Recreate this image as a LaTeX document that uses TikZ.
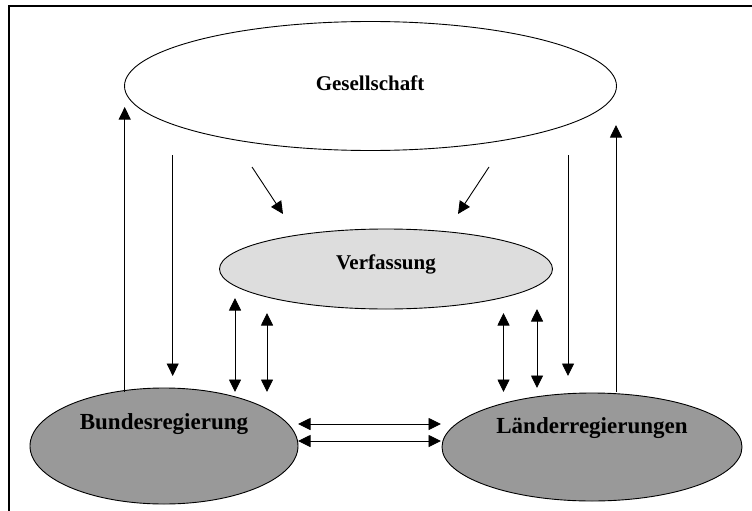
\documentclass[tikz,border=0pt]{standalone}
\usepackage{fontspec}
\setmainfont{Liberation Serif}
\usetikzlibrary{shapes.geometric,arrows.meta}
\definecolor{lightfill}{HTML}{DDDDDD}
\definecolor{darkfill}{HTML}{999999}
\tikzset{
  oval/.style={ellipse, draw=black, line width=0.9pt, inner sep=0pt},
  arr/.style={line width=0.9pt, -{Triangle[width=12pt,length=12.5pt]}},
  darr/.style={line width=0.9pt, {Triangle[width=12pt,length=12.5pt]}-{Triangle[width=12pt,length=12.5pt]}},
  toplabel/.style={font=\bfseries\fontsize{21}{23}\selectfont, inner sep=0pt},
  govlabel/.style={font=\bfseries\fontsize{23}{25}\selectfont, inner sep=0pt},
}
\begin{document}
\begin{tikzpicture}[x=1pt,y=-1pt]
\useasboundingbox (0,0) rectangle (752,511);
% frame (top and left only)
\draw[line width=2pt] (8.5,520) coordinate (fbl) -- (8.5,6.5) coordinate (ftl) -- (760,6.5) coordinate (ftr);
% ellipses
\node[oval, fill=white, minimum width=492pt, minimum height=129pt] (ges) at (370.5,86) {};
\node[oval, fill=lightfill, minimum width=333pt, minimum height=80pt] (ver) at (386,269) {};
\node[oval, fill=darkfill, minimum width=268pt, minimum height=116pt] (bund) at (164,446) {};
\node[oval, fill=darkfill, minimum width=300pt, minimum height=108pt] (land) at (592,447) {};
% labels
\node[toplabel] (geslbl) at (370,83) {Gesellschaft};
\node[toplabel] (verlbl) at (386,264) {Verfassung};
\node[govlabel] (bundlbl) at (164,424) {Bundesregierung};
\node[govlabel] (landlbl) at (592,428) {Länderregierungen};
% arrow end points
\coordinate (a1s) at (124.7,392); \coordinate (a1e) at (124.7,107);
\coordinate (a2s) at (172.7,155); \coordinate (a2e) at (172.7,376);
\coordinate (a3s) at (568,155);   \coordinate (a3e) at (568,376);
\coordinate (a4s) at (616,392);   \coordinate (a4e) at (616,125);
\coordinate (d1s) at (252,167);   \coordinate (d1e) at (283,214);
\coordinate (d2s) at (489,167);   \coordinate (d2e) at (458,214);
\coordinate (v1s) at (235,298);   \coordinate (v1e) at (235,392);
\coordinate (v2s) at (267,313);   \coordinate (v2e) at (267,392);
\coordinate (v3s) at (503.5,313); \coordinate (v3e) at (503.5,392);
\coordinate (v4s) at (537,309);   \coordinate (v4e) at (537,388);
\coordinate (h1s) at (298,424);   \coordinate (h1e) at (441,424);
\coordinate (h2s) at (298,441);   \coordinate (h2e) at (441,441);
% connectors
\draw[arr] (a1s) -- (a1e);
\draw[arr] (a2s) -- (a2e);
\draw[arr] (a3s) -- (a3e);
\draw[arr] (a4s) -- (a4e);
\draw[arr] (d1s) -- (d1e);
\draw[arr] (d2s) -- (d2e);
\draw[darr] (v1s) -- (v1e);
\draw[darr] (v2s) -- (v2e);
\draw[darr] (v3s) -- (v3e);
\draw[darr] (v4s) -- (v4e);
\draw[darr] (h1s) -- (h1e);
\draw[darr] (h2s) -- (h2e);
\end{tikzpicture}
\end{document}
